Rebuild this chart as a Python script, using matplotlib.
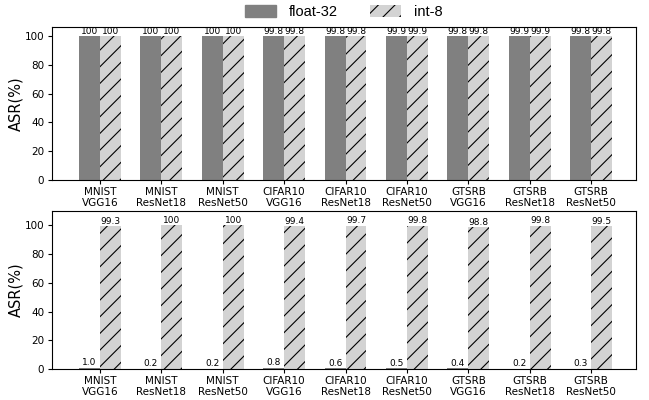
import matplotlib
matplotlib.use("Agg")
import matplotlib.pyplot as plt
import numpy as np
from matplotlib.patches import Patch

categories = ["MNIST\nVGG16", "MNIST\nResNet18", "MNIST\nResNet50",
              "CIFAR10\nVGG16", "CIFAR10\nResNet18", "CIFAR10\nResNet50",
              "GTSRB\nVGG16", "GTSRB\nResNet18", "GTSRB\nResNet50"]
top_float = [100, 100, 100, 99.8, 99.8, 99.9, 99.8, 99.9, 99.8]
top_int = [100, 100, 100, 99.8, 99.8, 99.9, 99.8, 99.9, 99.8]
top_float_lbl = ["100", "100", "100", "99.8", "99.8", "99.9", "99.8", "99.9", "99.8"]
top_int_lbl = ["100", "100", "100", "99.8", "99.8", "99.9", "99.8", "99.9", "99.8"]
bot_float = [1.0, 0.2, 0.2, 0.8, 0.6, 0.5, 0.4, 0.2, 0.3]
bot_int = [99.3, 100, 100, 99.4, 99.7, 99.8, 98.8, 99.8, 99.5]
bot_float_lbl = ["1.0", "0.2", "0.2", "0.8", "0.6", "0.5", "0.4", "0.2", "0.3"]
bot_int_lbl = ["99.3", "100", "100", "99.4", "99.7", "99.8", "98.8", "99.8", "99.5"]
yticks = [0, 20, 40, 60, 80, 100]

plt.rcParams['hatch.linewidth'] = 0.8
fig = plt.figure(figsize=(6.49, 4.0), dpi=100)
W, H = 649, 400
ax1 = fig.add_axes([52/W, 1-180/H, (636-52)/W, (180-27)/H])
ax2 = fig.add_axes([52/W, 1-369/H, (636-52)/W, (369-211)/H])

x = np.arange(len(categories))
w = 0.34
fc = "#808080"
ic = "#d3d3d3"

def draw(ax, fv, iv, fl, il, ymax):
    b1 = ax.bar(x - w/2, fv, w, color=fc, edgecolor=fc, linewidth=0)
    b2 = ax.bar(x + w/2, iv, w, color=ic, hatch='//', edgecolor='black', linewidth=0)
    for r, t in zip(b1, fl):
        ax.text(r.get_x() + r.get_width()/2, r.get_height() + 0.3, t,
                ha='center', va='bottom', fontsize=6.5)
    for r, t in zip(b2, il):
        ax.text(r.get_x() + r.get_width()/2, r.get_height() + 0.3, t,
                ha='center', va='bottom', fontsize=6.5)
    ax.set_xlim(-0.78, len(categories) - 1 + 0.73)
    ax.set_ylim(0, ymax)
    ax.set_yticks(yticks)
    ax.set_xticks(x)
    ax.set_xticklabels(categories, fontsize=7.5, linespacing=1.1)
    ax.tick_params(axis='x', pad=2, length=3)
    ax.tick_params(axis='y', labelsize=7.5, length=3, pad=2.5)
    ax.set_ylabel("ASR(%)", fontsize=10.5, labelpad=1)

draw(ax1, top_float, top_int, top_float_lbl, top_int_lbl, 106.2)
draw(ax2, bot_float, bot_int, bot_float_lbl, bot_int_lbl, 110)

handles = [Patch(facecolor=fc, edgecolor=fc, label='float-32'),
           Patch(facecolor=ic, edgecolor='black', hatch='//', linewidth=0, label='int-8')]
fig.legend(handles=handles, loc='upper center', ncol=2, frameon=False,
           bbox_to_anchor=(0.53, 1.02), handlelength=2.1, handleheight=0.85,
           handletextpad=0.9, columnspacing=2.2,
           prop={'family': 'Liberation Sans', 'size': 10.5})

fig.savefig("out.png", dpi=100)
